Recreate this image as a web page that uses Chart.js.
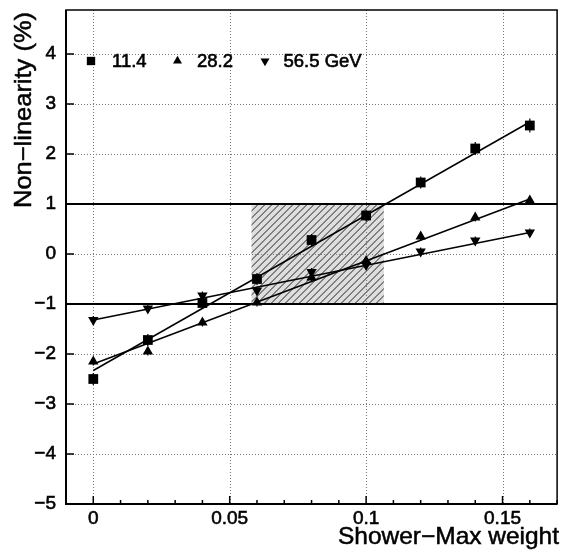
<!DOCTYPE html>
<html><head><meta charset="utf-8">
<style>html,body{margin:0;padding:0;background:#fff;overflow:hidden}#wrap{width:564px;height:550px}</style>
<script src="https://cdn.jsdelivr.net/npm/chart.js@4.4.0/dist/chart.umd.min.js"></script>
</head><body><div id="wrap"><canvas id="c" width="564" height="550"></canvas></div>
<script>
// ---- data ----
const weights = [0, 0.02, 0.04, 0.06, 0.08, 0.10, 0.12, 0.14, 0.16];
const nl114 = [-2.50, -1.72, -0.98, -0.50, 0.28, 0.77, 1.43, 2.11, 2.57];
const nl282 = [-2.15, -1.95, -1.37, -0.97, -0.47, -0.14, 0.35, 0.73, 1.07];
const nl565 = [-1.32, -1.09, -0.83, -0.73, -0.36, -0.22, 0.05, 0.27, 0.43];
const err114 = [0.12, 0.12, 0.12, 0.12, 0.12, 0.12, 0.12, 0.13, 0.14];
const err282 = [0.08, 0.08, 0.08, 0.08, 0.08, 0.08, 0.08, 0.08, 0.08];
const err565 = [0.08, 0.08, 0.08, 0.08, 0.08, 0.08, 0.08, 0.08, 0.08];
const fitX = [0, 0.16];
const fit114 = [-2.33, 2.64];
const fit282 = [-2.20, 1.10];
const fit565 = [-1.32, 0.43];
const xTicks = [0, 0.05, 0.10, 0.15];
const xMinor = [-0.01, 0.01, 0.02, 0.03, 0.04, 0.06, 0.07, 0.08, 0.09, 0.11, 0.12, 0.13, 0.14, 0.16, 0.17];
const yTicks = [-5, -4, -3, -2, -1, 0, 1, 2, 3, 4];
const bandX = [0.058, 0.1065];
const bandY = [-1, 1];
const refLines = [-1, 1];
const legendLabels = ['11.4', '28.2', '56.5 GeV'];
const xTitle = 'Shower\u2212Max weight';
const yTitle = 'Non\u2212linearity (%)';

const pts = (xs, ys) => xs.map((x, i) => ({x: x, y: ys[i]}));
const FONT = '"Liberation Sans", Arial, sans-serif';

function heavyText(ctx, txt, x, y) {
  ctx.fillText(txt, x, y);
  ctx.strokeText(txt, x, y);
}

const decor = {
  id: 'decor',
  beforeDatasetsDraw(chart) {
    const {ctx, chartArea: a, scales: {x, y}} = chart;
    ctx.save();
    // hatched band
    const bx0 = x.getPixelForValue(bandX[0]), bx1 = x.getPixelForValue(bandX[1]);
    const by0 = y.getPixelForValue(bandY[1]), by1 = y.getPixelForValue(bandY[0]);
    ctx.fillStyle = '#dedede';
    ctx.fillRect(bx0, by0, bx1 - bx0, by1 - by0);
    ctx.save();
    ctx.beginPath(); ctx.rect(bx0, by0, bx1 - bx0, by1 - by0); ctx.clip();
    ctx.strokeStyle = '#222'; ctx.lineWidth = 1;
    ctx.beginPath();
    const h = by1 - by0;
    for (let s = bx0 - h; s < bx1 + 10; s += 7) {
      ctx.moveTo(s, by1); ctx.lineTo(s + h, by0);
    }
    ctx.stroke();
    ctx.restore();
    // grid
    ctx.strokeStyle = '#777'; ctx.lineWidth = 1; ctx.setLineDash([1, 2]);
    ctx.beginPath();
    xTicks.forEach(v => { const px = Math.round(x.getPixelForValue(v)) + 0.5; ctx.moveTo(px, a.top); ctx.lineTo(px, a.bottom); });
    yTicks.forEach(v => { if (v === -5) return; const py = Math.round(y.getPixelForValue(v)) + 0.5; ctx.moveTo(a.left, py); ctx.lineTo(a.right, py); });
    ctx.stroke();
    ctx.setLineDash([]);
    // reference lines
    ctx.strokeStyle = '#000'; ctx.lineWidth = 2;
    ctx.beginPath();
    refLines.forEach(v => { const py = y.getPixelForValue(v); ctx.moveTo(a.left, py); ctx.lineTo(a.right, py); });
    ctx.stroke();
    // error bars
    ctx.lineWidth = 1.2;
    ctx.beginPath();
    [[nl114, err114], [nl282, err282], [nl565, err565]].forEach(([vals, errs]) => {
      weights.forEach((w, i) => {
        const px = x.getPixelForValue(w);
        ctx.moveTo(px, y.getPixelForValue(vals[i] - errs[i]));
        ctx.lineTo(px, y.getPixelForValue(vals[i] + errs[i]));
      });
    });
    ctx.stroke();
    ctx.restore();
  },
  afterDatasetsDraw(chart) {
    const {ctx, chartArea: a, scales: {x, y}} = chart;
    ctx.save();
    // frame
    ctx.strokeStyle = '#000';
    ctx.lineWidth = 1.5;
    ctx.strokeRect(a.left, a.top, a.right - a.left, a.bottom - a.top);
    ctx.lineWidth = 2;
    ctx.beginPath();
    ctx.moveTo(a.left, a.top); ctx.lineTo(a.left, a.bottom); ctx.lineTo(a.right, a.bottom);
    ctx.stroke();
    // ticks
    ctx.lineWidth = 1.5;
    ctx.beginPath();
    yTicks.forEach(v => { const py = y.getPixelForValue(v); ctx.moveTo(a.left, py); ctx.lineTo(a.left + 8, py); });
    xTicks.forEach(v => { const px = x.getPixelForValue(v); ctx.moveTo(px, a.bottom); ctx.lineTo(px, a.bottom - 8); });
    xMinor.forEach(v => { const px = x.getPixelForValue(v); ctx.moveTo(px, a.bottom); ctx.lineTo(px, a.bottom - 4); });
    ctx.stroke();
    // legend
    const styles = [
      {pointStyle: 'rect', rotation: 0, radius: 5.9, borderWidth: 0, mx: 91, tx: 112},
      {pointStyle: 'triangle', rotation: 0, radius: 5.2, borderWidth: 0, mx: 177.5, tx: 197},
      {pointStyle: 'triangle', rotation: 180, radius: 5.2, borderWidth: 0, mx: 265, tx: 283.5}
    ];
    ctx.fillStyle = '#000'; ctx.strokeStyle = '#000'; ctx.lineWidth = 0.6;
    ctx.font = '18.5px ' + FONT;
    ctx.textAlign = 'left'; ctx.textBaseline = 'alphabetic';
    styles.forEach((s, i) => {
      Chart.helpers.drawPoint(ctx, s, s.mx, 61);
      heavyText(ctx, legendLabels[i], s.tx, 67);
    });
    // axis titles
    ctx.lineWidth = 0.5;
    ctx.font = '24px ' + FONT;
    let w = ctx.measureText(xTitle).width;
    ctx.save();
    ctx.translate(559, 544); ctx.scale(221 / w, 1);
    ctx.textAlign = 'right';
    heavyText(ctx, xTitle, 0, 0);
    ctx.restore();
    w = ctx.measureText(yTitle).width;
    ctx.save();
    ctx.translate(31, 208); ctx.rotate(-Math.PI / 2); ctx.scale(196 / w, 1);
    ctx.textAlign = 'left';
    heavyText(ctx, yTitle, 0, 0);
    ctx.restore();
    ctx.restore();
  }
};

const markerSet = (data, style, rot, r) => ({
  data: data, showLine: false, pointStyle: style, rotation: rot, pointRadius: r, pointHoverRadius: r,
  backgroundColor: '#000', borderColor: '#000', pointBorderWidth: 0, borderWidth: 0
});
const fitSet = (ys) => ({
  data: pts(fitX, ys), showLine: true, pointRadius: 0, borderColor: '#000', borderWidth: 1.5, fill: false
});

new Chart(document.getElementById('c'), {
  type: 'scatter',
  data: {
    datasets: [
      fitSet(fit114), fitSet(fit282), fitSet(fit565),
      markerSet(pts(weights, nl114), 'rect', 0, 6.9),
      markerSet(pts(weights, nl282), 'triangle', 0, 6.0),
      markerSet(pts(weights, nl565), 'triangle', 180, 6.0)
    ]
  },
  options: {
    responsive: false, animation: false, devicePixelRatio: 1,
    layout: {padding: {top: 10, right: 3, left: 0, bottom: 0}},
    plugins: {legend: {display: false}, tooltip: {enabled: false}},
    scales: {
      x: {
        type: 'linear', min: -0.01, max: 0.17,
        afterBuildTicks: s => { s.ticks = xTicks.map(v => ({value: v})); },
        afterFit: s => { s.height = 46; s.paddingLeft = 0; s.paddingRight = 0; },
        grid: {display: false, drawTicks: false}, border: {display: false},
        ticks: {color: '#000', font: {family: FONT, size: 19}, padding: 3, maxRotation: 0, autoSkip: false,
          textStrokeColor: '#000', textStrokeWidth: 0.6,
          callback: v => String(Math.round(v * 100) / 100)}
      },
      y: {
        type: 'linear', min: -5, max: 4.88,
        afterBuildTicks: s => { s.ticks = yTicks.map(v => ({value: v})); },
        afterFit: s => { s.width = 66; s.paddingTop = 0; s.paddingBottom = 0; },
        grid: {display: false, drawTicks: false}, border: {display: false},
        ticks: {color: '#000', font: {family: FONT, size: 19}, padding: 10, autoSkip: false,
          textStrokeColor: '#000', textStrokeWidth: 0.6,
          callback: v => v < 0 ? '\u2212' + Math.abs(v) : String(v)}
      }
    }
  },
  plugins: [decor]
});
</script>
</body></html>
